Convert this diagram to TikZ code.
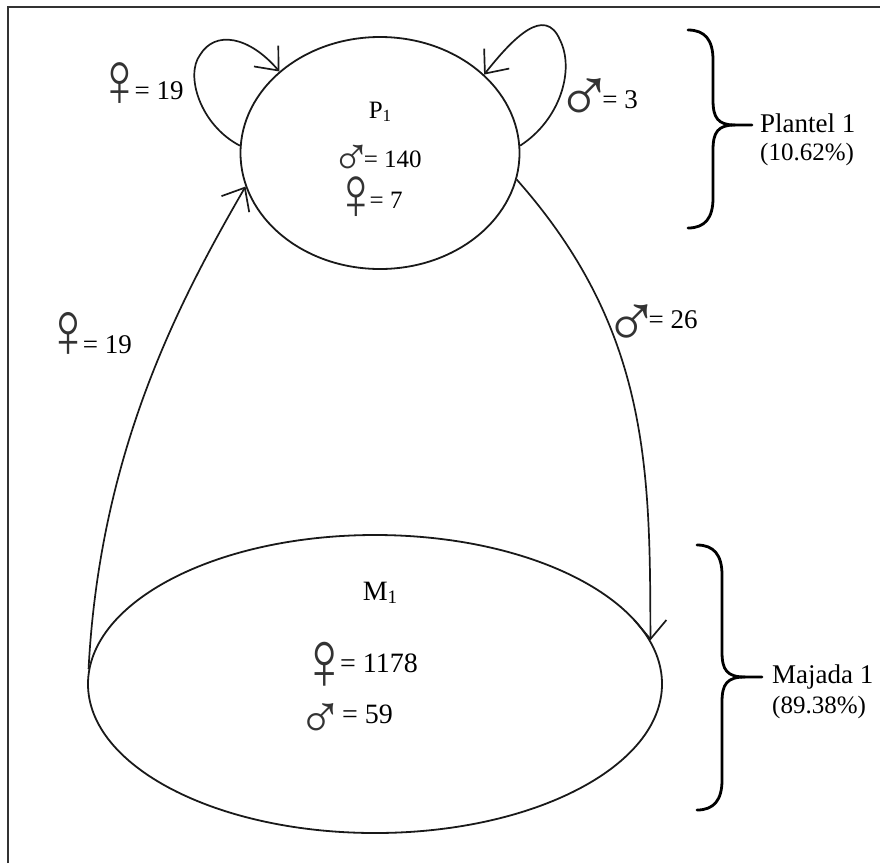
\documentclass[tikz,border=0pt]{standalone}
\usepackage{fontspec}
\setmainfont{Liberation Serif}
\usetikzlibrary{shapes.geometric,arrows.meta}
% #1 size, #2 vertical shift, #3 glyph, #4 right kern, #5 horizontal scale
\newcommand\gsym[5]{{\fontsize{#1}{#1}\selectfont\color{black!80}\kern-0.2em\raisebox{#2}{\scalebox{#5}[1]{#3}}\kern#4em}}
\begin{document}
\begin{tikzpicture}[x=1pt,y=-1pt,
  ell/.style={draw=black!90, ellipse, line width=1.8pt, inner sep=0pt},
  conn/.style={draw=black!90, line width=1.7pt, -{Straight Barb[length=19pt,width=32pt]}},
  brc/.style={line width=2.8pt, line cap=round, draw=black},
  frame/.style={line width=1.6pt, draw=black!80},
  lab/.style={inner sep=0pt, anchor=base west, font=\fontsize{27}{30}\selectfont},
  labs/.style={lab, font=\fontsize{25}{28}\selectfont},
  labm/.style={lab, font=\fontsize{28}{32}\selectfont}]
\useasboundingbox (0,0) rectangle (880,863);
\draw[frame] (8,863) -- (8,7) -- (880,7);
% ellipses
\node[ell, minimum width=279pt, minimum height=232pt] (P) at (380,153) {};
\node[ell, minimum width=574pt, minimum height=298pt] (M) at (375,684) {};
% connectors
\draw[conn] (P.177) .. controls (200,125) and (185,75) .. (200,55) .. controls (215,30) and (249,36) .. (P.141);
\draw[conn] (P.3) .. controls (560,120) and (575,70) .. (560,40) .. controls (545,5) and (513,38) .. (P.37);
\draw[conn] (M.177) .. controls (100,450) and (180,300) .. (P.194);
\draw[conn] (P.349) .. controls (650,330) and (650,470) .. (M.9.5);
% braces
\draw[brc] (688,30) .. controls (705,30) and (713,40) .. (713,60) -- (713,100) .. controls (713,118) and (718,125) .. (735,125) -- (752,125);
\draw[brc] (688,228) .. controls (705,228) and (713,218) .. (713,198) -- (713,150) .. controls (713,132) and (718,125) .. (735,125);
\draw[brc] (697,545) .. controls (714,545) and (722,555) .. (722,575) -- (722,652) .. controls (722,670) and (727,677) .. (745,677) -- (762,677);
\draw[brc] (697,810) .. controls (714,810) and (722,800) .. (722,780) -- (722,702) .. controls (722,684) and (727,677) .. (745,677);
% labels
\node[lab] (f1) at (112,99) {\gsym{78}{-7pt}{♀}{-0.2}{0.8} = 19};
\node[lab] (m1) at (571,108) {\gsym{78}{-14pt}{♂}{-0.15}{1}= 3};
\node[labs, anchor=base] (pl) at (380,118) {P\raisebox{-0.12em}{\fontsize{17}{17}\selectfont 1}};
\node[labs] (pm) at (342,167) {\gsym{54}{-8pt}{♂}{-0.15}{1}= 140};
\node[labs] (pf) at (348,208) {\gsym{76}{-11pt}{♀}{-0.2}{0.8} = 7};
\node[lab] (f2) at (60,353) {\gsym{80}{-4pt}{♀}{-0.2}{0.8} = 19};
\node[lab] (m2) at (618,328) {\gsym{76}{-19pt}{♂}{-0.15}{1}= 26};
\node[labm, anchor=base] (ml) at (380,600) {M\raisebox{-0.12em}{\fontsize{19}{19}\selectfont 1}};
\node[labm] (mf) at (316,672) {\gsym{84}{-17pt}{♀}{-0.2}{0.8} = 1178};
\node[labm] (mm) at (310,723) {\gsym{62}{-15pt}{♂}{-0.15}{1} = 59};
\node[lab] (t1) at (760,132) {Plantel 1};
\node[labs] (t2) at (760,160) {(10.62\%)};
\node[lab] (t3) at (772,683) {Majada 1};
\node[labs] (t4) at (772,713) {(89.38\%)};
\end{tikzpicture}
\end{document}
